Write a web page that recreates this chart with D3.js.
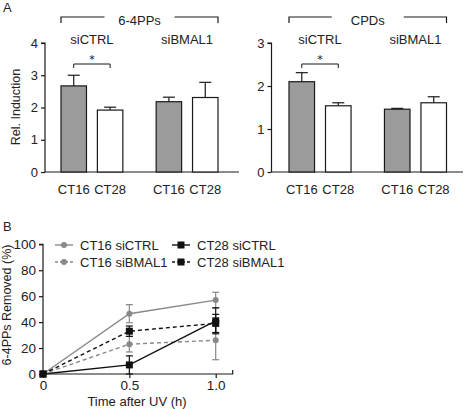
<!DOCTYPE html>
<html><head><meta charset="utf-8">
<script src="https://cdn.jsdelivr.net/npm/d3@7"></script>
<style>
body{margin:0;background:#fff;}
text{font-family:"Liberation Sans",Arial,sans-serif;fill:#222;}
text.star{font-family:"DejaVu Sans",sans-serif;fill:#111;}
</style></head>
<body>
<script>
// ---- data ----
const groups = ["siCTRL", "siBMAL1"];
const conds = ["CT16", "CT28"];
const ppValues = [[2.67, 1.92], [2.18, 2.31]];
const ppErrors = [[0.33, 0.09], [0.14, 0.47]];
const cpdValues = [[2.10, 1.54], [1.46, 1.61]];
const cpdErrors = [[0.21, 0.07], [0.02, 0.14]];
const ppTicks = [0, 1, 2, 3, 4];
const cpdTicks = [0, 1, 2, 3];

const times = [0, 0.5, 1.0];
const seriesNames = ["CT16 siCTRL", "CT16 siBMAL1", "CT28 siCTRL", "CT28 siBMAL1"];
const s16ctrl = [0, 46.5, 57];
const s16ctrlErr = [0, 7, 6];
const s16bmal = [0, 23, 26];
const s16bmalErr = [0, 6, 15];
const s28ctrl = [0, 7, 41];
const s28ctrlErr = [0, 7, 10];
const s28bmal = [0, 33, 39];
const s28bmalErr = [0, 4, 7];
const timeTicks = [0, 0.5, 1.0];
const pctTicks = [0, 20, 40, 60, 80, 100];

const W = 467, H = 409;
const svg = d3.select("body").append("svg").attr("width", W).attr("height", H);
const ink = "#1a1a1a";
const gray = "#9b9b9b";

// ---- panel A ----
function barPanel(opts) {
  const {values, errors, ticks, yMax, x0, x1, axisL, axisR, title} = opts;
  const y = d3.scaleLinear().domain([0, yMax]).range([172, 43]);
  const gx = d3.scaleBand().domain(groups).range([x0, x1]).paddingInner(0.35).paddingOuter(0);
  const cx = d3.scaleBand().domain(conds).range([0, gx.bandwidth()]).paddingInner(0.30).paddingOuter(0);
  const g = svg.append("g");
  const ya = g.append("g").attr("transform", `translate(${axisL},0)`)
    .call(d3.axisLeft(y).tickValues(ticks).tickSize(4).tickPadding(3).tickFormat(d3.format("d")));
  ya.select(".domain").attr("stroke", ink).attr("stroke-width", 1.2).attr("d", `M-4,${y(yMax)}H0V${y(0)}`);
  ya.selectAll(".tick line").attr("stroke", ink).attr("stroke-width", 1.2);
  ya.selectAll(".tick text").style("font-size", "13px").attr("fill", "#222");
  g.append("line").attr("x1", axisL).attr("x2", axisR).attr("y1", y(0)).attr("y2", y(0))
    .attr("stroke", ink).attr("stroke-width", 1.2);
  groups.forEach((grp, gi) => {
    conds.forEach((c, ci) => {
      const v = values[gi][ci], e = errors[gi][ci];
      const bx = gx(grp) + cx(c), bw = cx.bandwidth(), mid = bx + bw / 2;
      g.append("line").attr("x1", mid).attr("x2", mid).attr("y1", y(v)).attr("y2", y(v + e))
        .attr("stroke", ink).attr("stroke-width", 1.2);
      g.append("line").attr("x1", mid - 6).attr("x2", mid + 6).attr("y1", y(v + e)).attr("y2", y(v + e))
        .attr("stroke", ink).attr("stroke-width", 1.2);
      g.append("rect").attr("x", bx).attr("y", y(v)).attr("width", bw).attr("height", y(0) - y(v))
        .attr("fill", ci === 0 ? gray : "#fff").attr("stroke", ink).attr("stroke-width", 1.2);
      g.append("text").attr("x", mid).attr("y", 194).attr("text-anchor", "middle")
        .style("font-size", "13px").text(c);
    });
    g.append("text").attr("x", gx(grp) + gx.bandwidth() / 2).attr("y", 44).attr("text-anchor", "middle")
      .style("font-size", "13px").text(grp);
  });
  const a = gx("siCTRL") + cx("CT16") + cx.bandwidth() / 2;
  const b = gx("siCTRL") + cx("CT28") + cx.bandwidth() / 2;
  g.append("path").attr("d", `M${a},68V64H${b}V68`).attr("fill", "none").attr("stroke", ink).attr("stroke-width", 1);
  g.append("text").attr("class", "star").attr("x", (a + b) / 2).attr("y", 63).attr("text-anchor", "middle")
    .style("font-size", "11px").text("*");
  const L = gx("siCTRL"), R = gx("siBMAL1") + gx.bandwidth(), M = (L + R) / 2;
  const half = opts.gap / 2;
  g.append("path").attr("d", `M${L},23V17H${M - half}M${M + half},17H${R}V23`)
    .attr("fill", "none").attr("stroke", ink).attr("stroke-width", 1.2);
  g.append("text").attr("x", M).attr("y", 25).attr("text-anchor", "middle").style("font-size", "13px").text(title);
}
barPanel({values: ppValues, errors: ppErrors, ticks: ppTicks, yMax: 4, x0: 61, x1: 218, axisL: 45, axisR: 239, title: "6-4PPs", gap: 70});
barPanel({values: cpdValues, errors: cpdErrors, ticks: cpdTicks, yMax: 3, x0: 289, x1: 446.5, axisL: 271.5, axisR: 463, title: "CPDs", gap: 72});

svg.append("text").attr("x", 3).attr("y", 12).style("font-size", "13px").text("A");
svg.append("text").attr("transform", "translate(20,107) rotate(-90)").attr("text-anchor", "middle")
  .style("font-size", "12.5px").text("Rel. Induction");

// ---- panel B ----
svg.append("text").attr("x", 3).attr("y", 231).style("font-size", "13px").text("B");
const xB = d3.scaleLinear().domain([0, 1.0]).range([43, 215.7]);
const yB = d3.scaleLinear().domain([0, 100]).range([374, 244.3]);
const gb = svg.append("g");
const yaB = gb.append("g").attr("transform", "translate(43,0)")
  .call(d3.axisLeft(yB).tickValues(pctTicks).tickSize(4).tickPadding(3));
yaB.select(".domain").attr("stroke", ink).attr("stroke-width", 1.2).attr("d", `M-4,${yB(100)}H0V${yB(0)}`);
yaB.selectAll(".tick line").attr("stroke", ink).attr("stroke-width", 1.2);
yaB.selectAll(".tick text").style("font-size", "13.5px").attr("fill", "#222");
const xaB = gb.append("g").attr("transform", "translate(0,374)")
  .call(d3.axisBottom(xB).tickValues(timeTicks).tickSize(4).tickPadding(2)
    .tickFormat(d => d === 0 ? "0" : d3.format(".1f")(d)));
xaB.select(".domain").attr("stroke", ink).attr("stroke-width", 1.2).attr("d", `M43,0H232.7V-4`);
xaB.selectAll(".tick line").attr("stroke", ink).attr("stroke-width", 1.2);
xaB.selectAll(".tick text").style("font-size", "13.5px").attr("fill", "#222");
svg.append("text").attr("x", 137).attr("y", 406).attr("text-anchor", "middle").style("font-size", "13px").text("Time after UV (h)");
svg.append("text").attr("transform", "translate(11,305) rotate(-90)").attr("text-anchor", "middle")
  .style("font-size", "12.5px").text("6-4PPs Removed (%)");

const lineGray = "#888";
const series = [
  {name: seriesNames[0], v: s16ctrl, e: s16ctrlErr, color: lineGray, dash: null, shape: "circle"},
  {name: seriesNames[1], v: s16bmal, e: s16bmalErr, color: lineGray, dash: "4,3", shape: "circle"},
  {name: seriesNames[2], v: s28ctrl, e: s28ctrlErr, color: "#111", dash: null, shape: "square"},
  {name: seriesNames[3], v: s28bmal, e: s28bmalErr, color: "#111", dash: "4,3", shape: "square"}
];
const lineGen = d3.line().x(d => xB(d[0])).y(d => yB(d[1]));
function marker(sel, shape, color, cx, cy) {
  if (shape === "circle") sel.append("circle").attr("cx", cx).attr("cy", cy).attr("r", 3).attr("fill", color);
  else sel.append("rect").attr("x", cx - 3.5).attr("y", cy - 3.5).attr("width", 7).attr("height", 7).attr("fill", color);
}
series.forEach(s => {
  const pts = times.map((t, i) => [t, s.v[i], s.e[i]]);
  pts.forEach(p => {
    if (p[2] > 0) {
      const lo = Math.max(0, p[1] - p[2]), hi = p[1] + p[2];
      gb.append("line").attr("x1", xB(p[0])).attr("x2", xB(p[0])).attr("y1", yB(lo)).attr("y2", yB(hi))
        .attr("stroke", s.color).attr("stroke-width", 1.2);
      [lo, hi].forEach(q => gb.append("line").attr("x1", xB(p[0]) - 3.5).attr("x2", xB(p[0]) + 3.5)
        .attr("y1", yB(q)).attr("y2", yB(q)).attr("stroke", s.color).attr("stroke-width", 1.2));
    }
  });
  gb.append("path").attr("d", lineGen(pts)).attr("fill", "none").attr("stroke", s.color)
    .attr("stroke-width", 1.4).attr("stroke-dasharray", s.dash);
  pts.forEach(p => marker(gb, s.shape, s.color, xB(p[0]), yB(p[1])));
});

// legend
const legPos = [[55, 245], [55, 262], [172, 245], [172, 262]];
series.forEach((s, i) => {
  const [lx, ly] = legPos[i];
  svg.append("line").attr("x1", lx).attr("x2", lx + 18).attr("y1", ly).attr("y2", ly)
    .attr("stroke", s.color).attr("stroke-width", 1.4).attr("stroke-dasharray", s.dash ? "3,2" : null);
  marker(svg, s.shape, s.color, lx + 9, ly);
  svg.append("text").attr("x", lx + 25).attr("y", ly + 4.5).style("font-size", "13px").text(s.name);
});
</script>
</body></html>
